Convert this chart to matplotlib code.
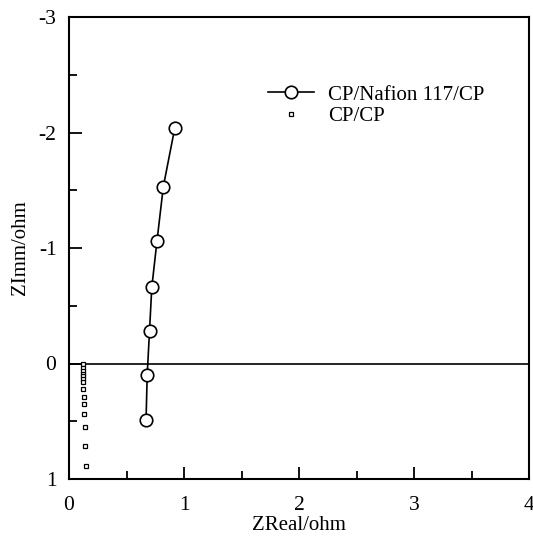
import numpy as np
import matplotlib
matplotlib.use("Agg")
import matplotlib.pyplot as plt
from matplotlib.ticker import MultipleLocator

plt.rcParams['font.family'] = ['Liberation Serif', 'DejaVu Serif']
plt.rcParams['axes.unicode_minus'] = False

# CP/Nafion 117/CP
nafion_re = [0.92, 0.82, 0.765, 0.72, 0.70, 0.68, 0.67]
nafion_im = [-2.04, -1.53, -1.06, -0.66, -0.28, 0.10, 0.49]

# CP/CP
cp_re = [0.12, 0.12, 0.12, 0.12, 0.12, 0.12, 0.12, 0.125, 0.13, 0.13, 0.13, 0.135, 0.14, 0.15]
cp_im = [0.004, 0.04, 0.065, 0.087, 0.11, 0.13, 0.16, 0.22, 0.29, 0.35, 0.44, 0.55, 0.71, 0.89]

fig = plt.figure(figsize=(5.33, 5.41), dpi=100)
ax = fig.add_axes([69 / 533, 1 - 479 / 541, 460 / 533, 462 / 541])

ax.axhline(0, color='black', lw=1.2, zorder=1)
ax.plot(nafion_re, nafion_im, '-o', color='black', lw=1.2, ms=9,
        mfc='white', mec='black', mew=1.2, label='CP/Nafion 117/CP', zorder=3)
ax.plot(cp_re, cp_im, 's', ls='none', ms=2.6, mfc='white', mec='black',
        mew=0.9, label='CP/CP', zorder=3)

ax.set_xlim(0, 4)
ax.set_ylim(1, -3)
ax.xaxis.set_major_locator(MultipleLocator(1))
ax.xaxis.set_minor_locator(MultipleLocator(0.5))
ax.yaxis.set_major_locator(MultipleLocator(1))
ax.yaxis.set_minor_locator(MultipleLocator(0.5))
ax.tick_params(which='both', direction='in', top=False, right=False,
               labelsize=15.5, width=1.3)
ax.tick_params(axis='x', which='major', pad=12)
ax.tick_params(axis='y', which='major', pad=9)
ax.tick_params(which='major', length=9)
ax.tick_params(which='minor', length=6)
for s in ax.spines.values():
    s.set_linewidth(1.5)

ax.set_xlabel('ZReal/ohm', fontsize=15, labelpad=1)
ax.set_ylabel('ZImm/ohm', fontsize=15, labelpad=6)

ax.legend(loc='upper left', bbox_to_anchor=(0.41, 0.875), frameon=False,
          fontsize=15, handlelength=2.2, handletextpad=0.7, labelspacing=0.1,
          borderpad=0)

fig.savefig('out.png', dpi=100)
